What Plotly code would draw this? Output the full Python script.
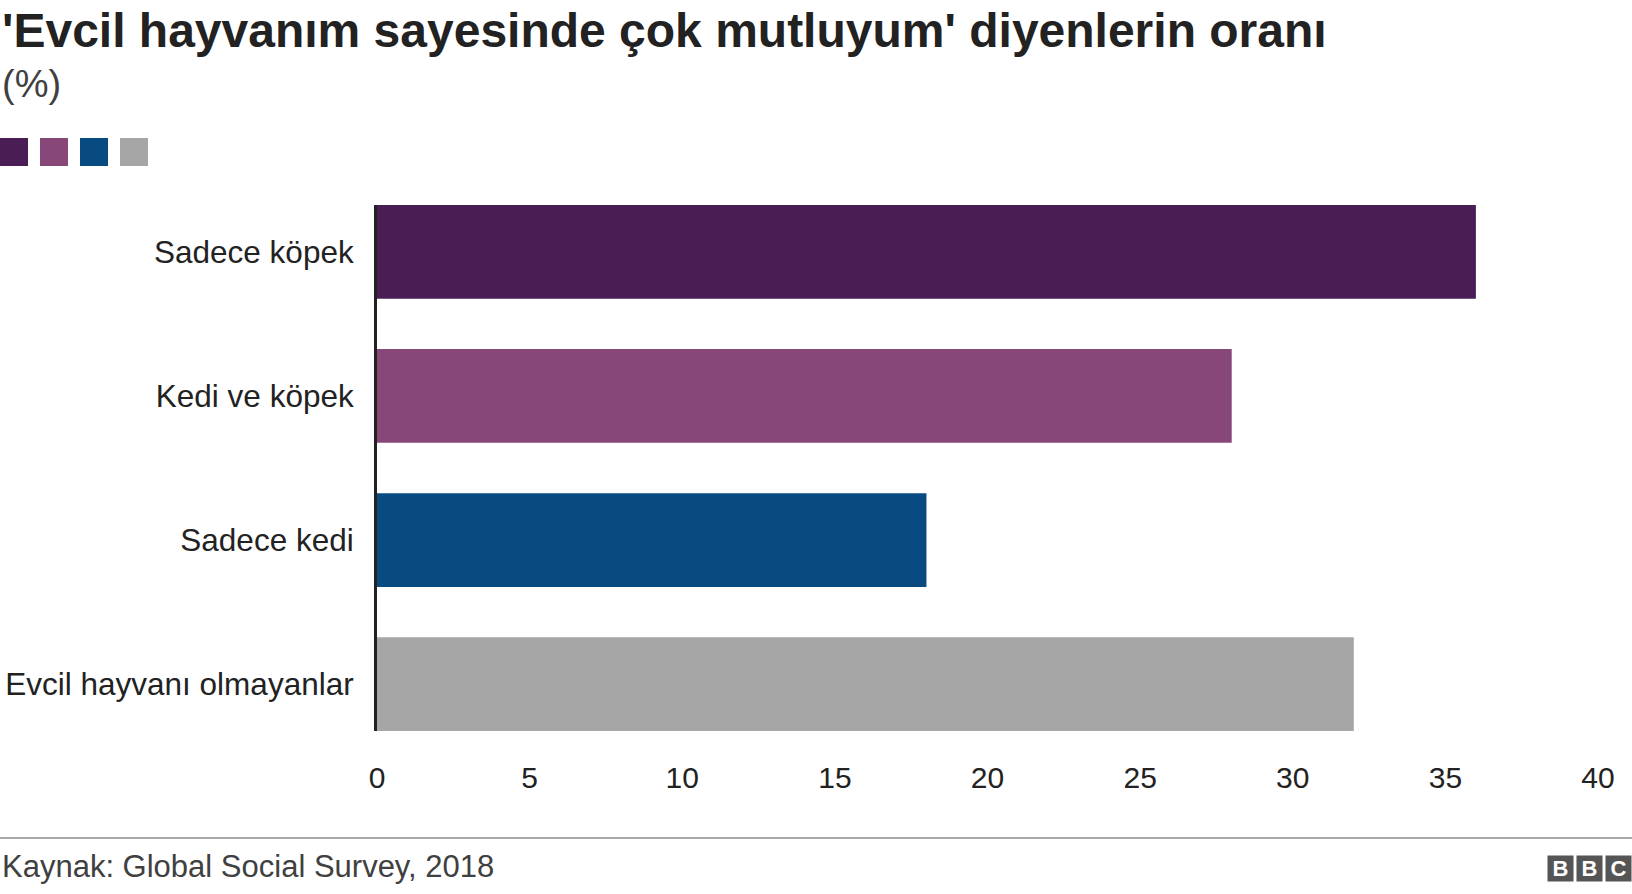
import plotly.graph_objects as go

categories = ["Sadece köpek", "Kedi ve köpek", "Sadece kedi", "Evcil hayvanı olmayanlar"]
values = [36, 28, 18, 32]
colors = ["#4a1e55", "#874778", "#074b80", "#a6a6a6"]

W, H = 1632, 894
L, R, T, B = 377, 34, 205, 163
PW, PH = W - L - R, H - T - B
font = "Liberation Sans, Arial, sans-serif"


def px(x):
    return (x - L) / PW


def py(y):
    return (H - B - y) / PH


fig = go.Figure(go.Bar(
    x=values, y=categories, orientation="h",
    marker=dict(color=colors, line=dict(width=0)),
    hoverinfo="x+y",
))

bargap = 0.35
half = (1 - bargap) / 2

# legend swatches (no labels, as in the original)
shapes = []
for i, c in enumerate(colors):
    x0 = i * 40
    shapes.append(dict(type="rect", xref="paper", yref="paper",
                       x0=px(x0), x1=px(x0 + 28), y0=py(166), y1=py(138),
                       fillcolor=c, line=dict(width=0)))
# footer rule
shapes.append(dict(type="line", xref="paper", yref="paper",
                   x0=px(0), x1=px(W), y0=py(838), y1=py(838),
                   line=dict(color="#8c8c8c", width=1.5)))

logo = []
for i, ch in enumerate("BBC"):
    logo.append(dict(text="<b>" + ch + "</b>", xref="paper", yref="paper",
                     x=px(W - (2 - i) * 29), y=py(868), xanchor="right", yanchor="middle",
                     showarrow=False, bgcolor="#555555", borderpad=0,
                     font=dict(size=22, color="white"), width=25, height=25))

fig.update_layout(
    width=W, height=H,
    margin=dict(l=L, r=R, t=T, b=B),
    paper_bgcolor="white", plot_bgcolor="white",
    font=dict(family=font, color="#222222"),
    bargap=bargap,
    showlegend=False,
    shapes=shapes,
    xaxis=dict(range=[0, 40], dtick=5, showgrid=False, zeroline=False,
               tickfont=dict(size=30, color="#222222"), ticks="", ticklen=0,
               ticklabelstandoff=26, automargin=False),
    yaxis=dict(categoryorder="array", categoryarray=categories[::-1],
               range=[-half, len(categories) - 1 + half],
               showline=True, linecolor="#222222", linewidth=3,
               tickfont=dict(size=31.5, color="#222222"), ticks="", ticklen=0,
               ticklabelstandoff=14, automargin=False),
    annotations=[
        dict(text="<b>'Evcil hayvanım sayesinde çok mutluyum' diyenlerin oranı</b>",
             xref="paper", yref="paper", x=px(0), y=py(30),
             xanchor="left", yanchor="middle", showarrow=False,
             font=dict(size=48, color="#222222")),
        dict(text="(%)", xref="paper", yref="paper", x=px(0), y=py(84),
             xanchor="left", yanchor="middle", showarrow=False,
             font=dict(size=38, color="#404040")),
        dict(text="Kaynak: Global Social Survey, 2018", xref="paper", yref="paper",
             x=px(0), y=py(866), xanchor="left", yanchor="middle",
             showarrow=False, font=dict(size=31, color="#404040")),
    ] + logo,
)

fig.write_html("out.html", config={"displayModeBar": False},
               post_script="document.body.style.margin='0';document.documentElement.style.margin='0';")
